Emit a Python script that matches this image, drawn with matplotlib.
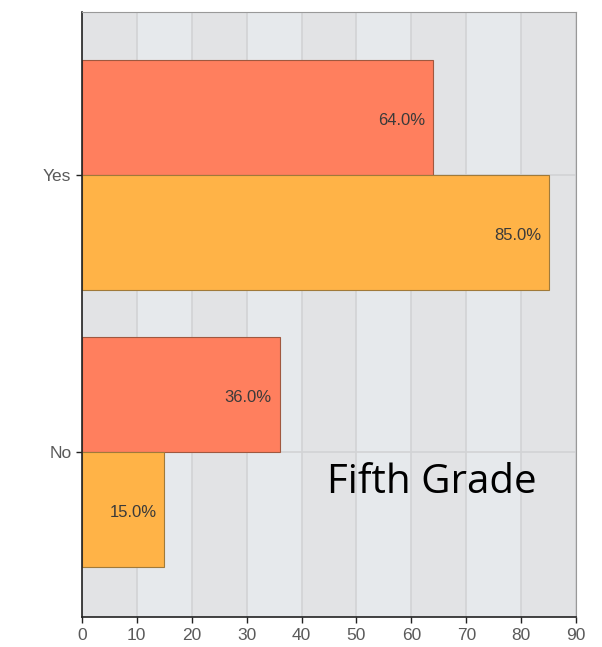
import matplotlib
matplotlib.use('Agg')
import matplotlib.pyplot as plt
import numpy as np

# data
categories = ['No', 'Yes']
first_series = [36.0, 64.0]   # upper bar of each pair
second_series = [15.0, 85.0]  # lower bar of each pair
x_ticks = [0, 10, 20, 30, 40, 50, 60, 70, 80, 90]

red = '#ff7f5e'
orange = '#ffb347'

plt.rcParams['font.family'] = ['Liberation Sans', 'DejaVu Sans']

fig = plt.figure(figsize=(6.02, 6.47), dpi=100)
ax = fig.add_axes([0.136, 0.046, 0.821, 0.935])

# striped background
ax.set_facecolor('#e6e9ec')
for i in range(0, 90, 20):
    ax.axvspan(i, i + 10, color='#e2e3e5', zorder=0, lw=0)
for t in x_ticks:
    ax.axvline(t, color='#d2d3d5', lw=1.2, zorder=0.5)

pos = np.arange(len(categories))
h = 0.415
for p in pos:
    ax.axhline(p, color='#d2d3d5', lw=1.2, zorder=0.5)

ax.barh(pos + h / 2, first_series, height=h, color=red,
        edgecolor='#a0583f', lw=0.8, zorder=2)
ax.barh(pos - h / 2, second_series, height=h, color=orange,
        edgecolor='#a07a3a', lw=0.8, zorder=2)

for p, v in zip(pos, first_series):
    ax.text(v - 1.4, p + h / 2 - 0.01, '%.1f%%' % v, ha='right', va='center',
            fontsize=12, color='#3a3a3a', zorder=3)
for p, v in zip(pos, second_series):
    ax.text(v - 1.4, p - h / 2 - 0.01, '%.1f%%' % v, ha='right', va='center',
            fontsize=12, color='#3a3a3a', zorder=3)

ax.set_xlim(0, 90)
ax.set_ylim(-0.596, 1.588)
ax.set_xticks(x_ticks)
ax.set_yticks(pos)
ax.set_yticklabels(categories)
ax.tick_params(labelsize=12.5, labelcolor='#5a5a5a', color='#222222',
               length=4, width=1)

ax.spines['left'].set_color('#222222')
ax.spines['bottom'].set_color('#222222')
ax.spines['left'].set_linewidth(1.2)
ax.spines['bottom'].set_linewidth(1.2)
ax.spines['top'].set_color('#999999')
ax.spines['right'].set_color('#999999')

ax.text(63.8, -0.148, 'Fifth Grade', fontsize=29, family=['Open Sans', 'DejaVu Sans'],
        color='black', ha='center', va='baseline', zorder=3)

fig.savefig('out.png', dpi=100)
